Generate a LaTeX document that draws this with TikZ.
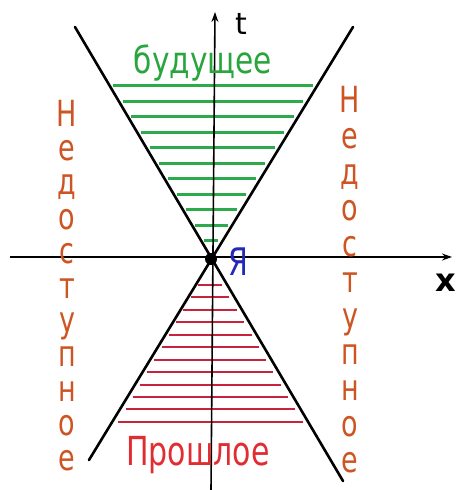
\documentclass[tikz,border=0pt]{standalone}
\usepackage{fontspec}
\setmainfont{DejaVu Sans}
\usetikzlibrary{arrows.meta}
\definecolor{fgreen}{RGB}{45,170,75}
\definecolor{tgreen}{RGB}{40,165,60}
\definecolor{fred}{RGB}{200,35,60}
\definecolor{tred}{RGB}{225,45,50}
\definecolor{forange}{RGB}{205,85,35}
\definecolor{fblue}{RGB}{35,40,185}
\begin{document}
\begin{tikzpicture}[x=1pt,y=-1pt,
  cone/.style={line width=2.6pt, black, line cap=round},
  axisline/.style={line width=2pt, black, -{Stealth[length=10pt,width=7pt]}},
  ghatch/.style={line width=3pt, fgreen},
  rhatch/.style={line width=2.2pt, fred},
  side/.style={text=forange, font=\fontsize{36}{36}\selectfont, xscale=0.75, inner sep=0pt, anchor=base},
  handlabel/.style={inner sep=0pt, anchor=base},
  axlabel/.style={font=\fontsize{30}{30}\selectfont, inner sep=0pt, text=black},
]
\useasboundingbox (0,0) rectangle (456,490);
\coordinate (O) at (211,259);
\coordinate (TL) at (75,27);
\coordinate (TR) at (353,27);
\coordinate (BL) at (89,460);
\coordinate (BR) at (343,481);
\coordinate (XL) at (10,257);
\coordinate (XR) at (452,257);
\coordinate (TB) at (211,490);
\coordinate (TT) at (215,12);
% green hatching (future)
\foreach \i in {0,...,10} {
  \pgfmathsetmacro\yy{round(85+\i*15.5)+0.5}
  \draw[ghatch] ({211-(259-\yy)*0.586+4},\yy) -- ({211+(259-\yy)*0.612-4},\yy);
}
% red hatching (past)
\foreach \i in {0,...,11} {
  \pgfmathsetmacro\yy{round(285+\i*12.45)}
  \draw[rhatch] ({211-(\yy-259)*0.583+2},\yy) -- ({211+(\yy-259)*0.587-4},\yy);
}
% cone
\draw[cone] (TL) -- (BR);
\draw[cone] (TR) -- (BL);
% axes
\draw[axisline] (XL) -- (XR);
\draw[axisline, line width=1.6pt] (TB) -- (TT);
\fill (O) circle (6);
% labels
\node[axlabel] (tlab) at (241,24) {t};
\node[axlabel, font=\bfseries\fontsize{32}{32}\selectfont] (xlab) at (446,283) {x};
\node[text=fblue, font=\fontsize{38}{38}\selectfont, xscale=0.75, inner sep=0pt] (me) at (238,262) {Я};
\node[handlabel, text=tgreen, font=\fontsize{37}{37}\selectfont, xscale=0.8] (future) at (203,73) {будущее};
\node[handlabel, text=tred, font=\fontsize{40}{40}\selectfont, xscale=0.75] (past) at (198,465) {Прошлое};
\foreach \l [count=\i from 0] in {Н,е,д,о,с,т,у,п,н,о,е} {
  \node[side] (L\i) at (67,{126+34.4*\i}) {\l};
  \node[side] (R\i) at (350,{112+36*\i}) {\l};
}
\end{tikzpicture}
\end{document}
